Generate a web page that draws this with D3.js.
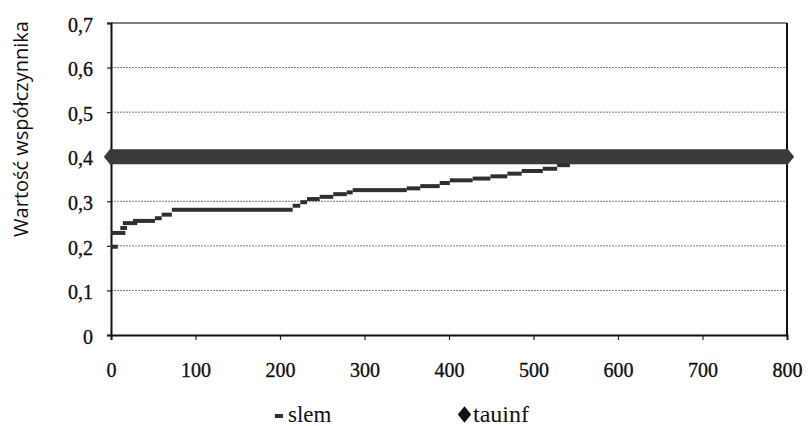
<!DOCTYPE html>
<html>
<head>
<meta charset="utf-8">
<script src="https://cdn.jsdelivr.net/npm/d3@7"></script>
<style>
  body { margin: 0; background: #fff; }
  svg { display: block; }
</style>
</head>
<body>
<svg id="chart" width="808" height="426"></svg>
<script>
// slem: short flat runs (start x, end x, value)
let slemStart = [0, 0, 11, 14, 26, 52, 60, 72, 215, 224, 232, 247, 263, 279, 286, 350, 366, 389, 401, 428, 449, 469, 486, 511, 528];
let slemEnd   = [8, 17, 19, 31, 52, 60, 72, 215, 224, 232, 247, 263, 279, 286, 350, 366, 389, 401, 428, 449, 469, 486, 511, 528, 543];
let slemValue = [0.198, 0.229, 0.240, 0.251, 0.256, 0.262, 0.270, 0.281, 0.290, 0.298, 0.305, 0.310, 0.316, 0.320, 0.325, 0.329, 0.334, 0.341, 0.347, 0.351, 0.356, 0.362, 0.368, 0.373, 0.381];

// tauinf: constant level
let tauinfX = [0, 800];
let tauinfY = [0.4, 0.4];

let xTicks = [0, 100, 200, 300, 400, 500, 600, 700, 800];
let yTicks = [0, 0.1, 0.2, 0.3, 0.4, 0.5, 0.6, 0.7];
let yTickLabels = ["0", "0,1", "0,2", "0,3", "0,4", "0,5", "0,6", "0,7"];
let seriesNames = ["slem", "tauinf"];
let yTitle = "Wartość współczynnika";

let svg = d3.select("#chart");
let plotL = 111, plotR = 787, plotT = 23, plotB = 335;

let x = d3.scaleLinear().domain([0, 800]).range([plotL, plotR]);
let y = d3.scaleLinear().domain([0, 0.7]).range([plotB, plotT]);

let ink = "#2f2f2f";
let serif = "'Liberation Serif', 'Times New Roman', serif";

// gridlines (dotted grey)
svg.append("g")
    .selectAll("line")
    .data(yTicks.filter(d => d > 0 && d < 0.7))
    .enter().append("line")
    .attr("x1", plotL).attr("x2", plotR)
    .attr("y1", d => y(d)).attr("y2", d => y(d))
    .attr("stroke", "#7a7a7a")
    .attr("stroke-width", 1)
    .attr("stroke-dasharray", "2,1");

// frame top + right
svg.append("line")
    .attr("x1", plotL).attr("x2", plotR)
    .attr("y1", plotT).attr("y2", plotT)
    .attr("stroke", "#555").attr("stroke-width", 1.5);
svg.append("line")
    .attr("x1", plotR).attr("x2", plotR)
    .attr("y1", plotT).attr("y2", plotB)
    .attr("stroke", "#111").attr("stroke-width", 2);

// axes
let xAxis = svg.append("g")
    .attr("transform", "translate(0," + plotB + ")")
    .call(d3.axisBottom(x).tickValues(xTicks).tickSize(5).tickFormat(d3.format("d")));
let yAxis = svg.append("g")
    .attr("transform", "translate(" + plotL + ",0)")
    .call(d3.axisLeft(y).tickValues(yTicks).tickSize(4).tickFormat((d, i) => yTickLabels[i]));

[xAxis, yAxis].forEach(a => {
    a.select(".domain").attr("stroke", "#111").attr("stroke-width", 2);
    a.selectAll(".tick line").attr("stroke", "#222").attr("stroke-width", 1.2);
    a.selectAll("text")
        .attr("font-family", serif)
        .attr("font-size", 20)
        .attr("fill", "#111")
        .attr("stroke", "#111")
        .attr("stroke-width", 0.35)
        .attr("dy", 0)
        .attr("transform", "scale(1,1.1)");
});
xAxis.selectAll("text").attr("y", 38);
yAxis.selectAll("text").attr("x", -18).attr("y", 7.5);

// tauinf band with diamond ends
let tauLine = d3.line().x(d => x(d[0])).y(d => y(d[1]));
let tauPts = tauinfX.map((v, i) => [v, tauinfY[i]]);
svg.append("path")
    .datum(tauPts)
    .attr("d", tauLine)
    .attr("fill", "none")
    .attr("stroke", "#3a3a3a")
    .attr("stroke-width", 15);

let diamond = {
    draw(ctx, size) {
        let w = Math.sqrt(size) * 0.45, h = Math.sqrt(size) * 0.55;
        ctx.moveTo(0, -h); ctx.lineTo(w, 0); ctx.lineTo(0, h); ctx.lineTo(-w, 0); ctx.closePath();
    }
};
svg.append("g").selectAll("path")
    .data(tauPts)
    .enter().append("path")
    .attr("transform", d => "translate(" + x(d[0]) + "," + y(d[1]) + ")")
    .attr("d", d3.symbol().type(diamond).size(256))
    .attr("fill", "#3a3a3a");

// slem runs
svg.append("g").selectAll("rect")
    .data(slemValue)
    .enter().append("rect")
    .attr("x", (d, i) => x(slemStart[i]))
    .attr("width", (d, i) => x(slemEnd[i]) - x(slemStart[i]))
    .attr("y", d => y(d) - 2)
    .attr("height", 4)
    .attr("fill", ink);

// y title
svg.append("text")
    .attr("transform", "translate(28,129) rotate(-90)")
    .attr("text-anchor", "middle")
    .attr("font-family", "'Open Sans', 'Noto Sans', sans-serif")
    .attr("font-size", 20)
    .attr("fill", "#111")
    .text(yTitle);

// legend
let legend = svg.append("g");
legend.append("rect")
    .attr("x", 275).attr("y", 414).attr("width", 8).attr("height", 4)
    .attr("fill", ink);
legend.append("text")
    .attr("x", 288).attr("y", 422)
    .attr("font-family", serif).attr("font-size", 23).attr("fill", "#111")
    .text(seriesNames[0]);
legend.append("path")
    .attr("transform", "translate(464.5,414.5)")
    .attr("d", d3.symbol().type(diamond).size(220))
    .attr("fill", "#111");
legend.append("text")
    .attr("x", 473).attr("y", 422)
    .attr("font-family", serif).attr("font-size", 24).attr("fill", "#111")
    .text(seriesNames[1]);
</script>
</body>
</html>
